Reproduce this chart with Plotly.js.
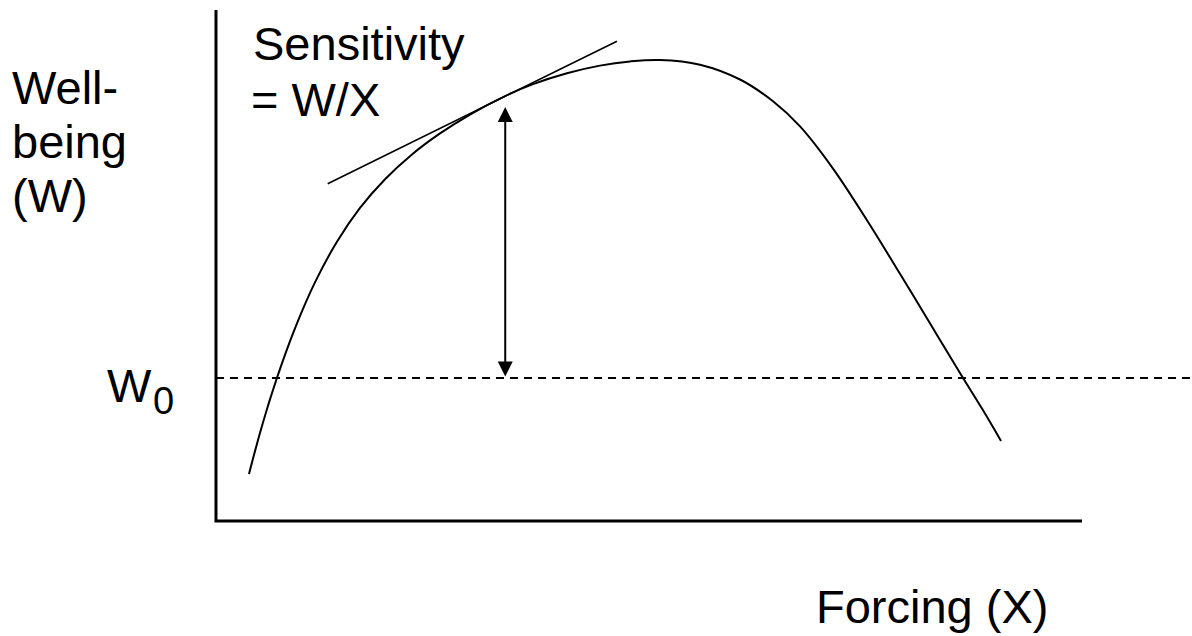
<!DOCTYPE html>
<html>
<head>
<meta charset="utf-8">
<script src="https://cdn.plot.ly/plotly-3.0.1.min.js"></script>
<style>html,body{margin:0;padding:0;background:#fff;}#chart{width:1192px;height:636px;}</style>
</head>
<body>
<div id="chart"></div>
<script>
// Well-being curve W(X) (axis units: X 0..100, W 0..100)
const forcingX = [3.81, 5.31, 7.04, 9.12, 11.43, 13.97, 16.63, 19.52, 22.63, 25.87, 29.33, 33.14, 36.61, 40.53, 44.34, 47.81, 51.27, 55.89, 60.51, 64.32, 67.44, 71.25, 75.17, 78.98, 82.79, 86.14, 88.45, 90.65];
const wellbeingW = [9.20, 18.61, 28.00, 37.69, 46.69, 54.66, 61.27, 66.89, 71.74, 75.85, 79.55, 82.97, 85.50, 87.63, 89.12, 89.94, 90.23, 89.30, 86.40, 82.13, 77.22, 68.96, 58.85, 48.38, 37.71, 28.34, 22.00, 15.68];
// Tangent line (sensitivity)
const tangentX = [12.9, 46.3];
const tangentW = [66.0, 93.9];
// Baseline W0
const w0Level = 28.0;
const w0X = [0, 112.7];
// Vertical double arrow between W0 and curve
const arrowX = 33.4;
const arrowTop = 81.0;
// Axis frame
const axisXLine = [0, 0, 100];
const axisYLine = [100, 0, 0];

const font = "Liberation Sans, Arial, sans-serif";
const traces = [
  {x: axisXLine, y: axisYLine, mode: 'lines', line: {color: '#000', width: 3}, hoverinfo: 'skip'},
  {x: w0X, y: [w0Level, w0Level], mode: 'lines', line: {color: '#000', width: 2, dash: '8px,6px'}, hoverinfo: 'skip'},
  {x: tangentX, y: tangentW, mode: 'lines', line: {color: '#000', width: 1.7}, hoverinfo: 'skip'},
  {x: forcingX, y: wellbeingW, mode: 'lines', line: {color: '#000', width: 2, shape: 'spline', smoothing: 1}, hoverinfo: 'skip'}
];

function px(x){return x/1192;}
function py(y){return 1 - y/636;}
const txt = (text, x, y, size) => ({xref: 'paper', yref: 'paper', x: px(x), y: py(y), xanchor: 'left', yanchor: 'middle', text: text, showarrow: false, font: {family: font, size: size || 47, color: '#000'}});

const layout = {
  width: 1192, height: 636,
  margin: {l: 0, r: 0, t: 0, b: 0},
  paper_bgcolor: '#fff', plot_bgcolor: '#fff',
  showlegend: false,
  xaxis: {range: [-24.94, 112.70], visible: false, fixedrange: true},
  yaxis: {range: [-22.5, 101.96], visible: false, fixedrange: true},
  annotations: [
    {x: arrowX, y: arrowTop, ax: arrowX, ay: w0Level, xref: 'x', yref: 'y', axref: 'x', ayref: 'y', showarrow: true, arrowhead: 2, startarrowhead: 2, arrowside: 'end+start', arrowsize: 1.5, startarrowsize: 1.5, arrowwidth: 2, arrowcolor: '#000', text: ''},
    txt('Well-', 10, 87),
    txt('being', 10, 141),
    txt('(W)', 10, 195),
    txt('W', 105, 385),
    txt('0', 151, 401, 38),
    txt('Sensitivity', 251, 43),
    txt('= W/X', 249, 100),
    txt('Forcing (X)', 814, 606)
  ]
};
Plotly.newPlot('chart', traces, layout, {displayModeBar: false, staticPlot: true});
</script>
</body>
</html>
